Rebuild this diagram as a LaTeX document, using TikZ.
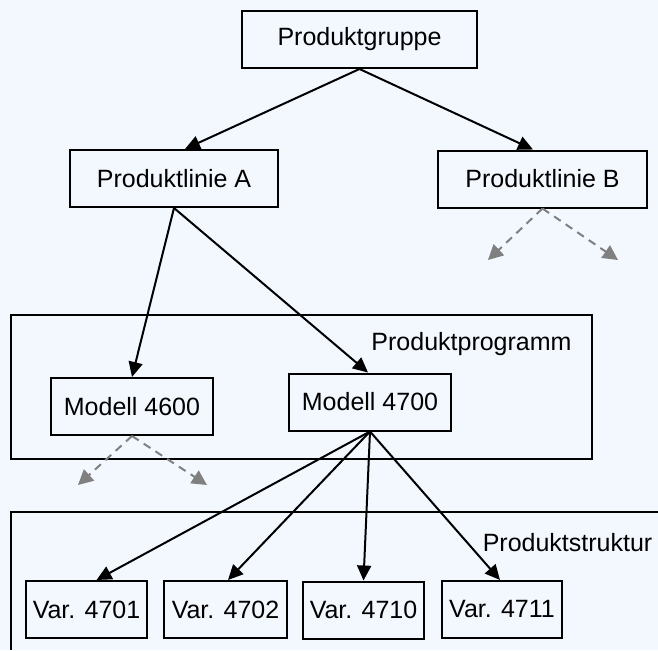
\documentclass[tikz,border=0pt]{standalone}
\usepackage{fontspec}
\setmainfont{Liberation Sans}
\usetikzlibrary{arrows.meta}
\definecolor{bgblue}{RGB}{243,248,255}
\tikzstyle{every node}=[font=\fontsize{25}{30}\selectfont,inner sep=0pt]
\tikzstyle{box}=[draw=black,line width=2pt,minimum height=57pt]
\tikzstyle{frame}=[draw=black,line width=2pt]
\tikzstyle{link}=[draw=black,line width=2pt,-{Triangle[length=15pt,width=14pt]}]
\tikzstyle{more}=[draw=gray,line width=2pt,dash pattern=on 8pt off 6pt,-{Triangle[length=15pt,width=15pt]}]

\begin{document}
\begin{tikzpicture}[x=1pt,y=-1pt]
  \fill[bgblue] (0,0) rectangle (658,650);
  \useasboundingbox (0,0) rectangle (658,650);
  \draw[frame] (11,315) rectangle (592,459);
  \draw[frame] (658,512) -| (11,650);
  \node (prog) at (471.5,344) {Produktprogramm};
  \node (struktur) at (567.5,543) {Produktstruktur};
  \node [box,minimum width=235pt,minimum height=57pt] (gruppe) at (359.5,39.5) {Produktgruppe};
  \node [box,minimum width=208pt] (linieA) at (174,178.5) {Produktlinie A};
  \node [box,minimum width=209pt] (linieB) at (542.5,179) {Produktlinie B};
  \node [box,minimum width=162pt] (m4600) at (132,406.5) {Modell 4600};
  \node [box,minimum width=162pt] (m4700) at (370,402) {Modell 4700};
  \node [box,minimum width=121pt] (v4701) at (86.5,609.5) {Var. 4701};
  \node [box,minimum width=123pt] (v4702) at (225.5,609.5) {Var. 4702};
  \node [box,minimum width=121pt] (v4710) at (363.5,610) {Var. 4710};
  \node [box,minimum width=120pt] (v4711) at (502,609.5) {Var. 4711};
  \coordinate (bL) at (488,260);
  \coordinate (bR) at (618,260);
  \coordinate (mL) at (78,485);
  \coordinate (mR) at (207,485);
  \draw[link] (gruppe.south) -- ([xshift=11pt]linieA.north);
  \draw[link] (gruppe.south) -- ([xshift=-9.5pt]linieB.north);
  \draw[link] (linieA.south) -- (m4600.north);
  \draw[link] (linieA.south) -- ([xshift=-2pt]m4700.north);
  \draw[link] (m4700.south) -- ([xshift=10pt]v4701.north);
  \draw[link] (m4700.south) -- ([xshift=2.5pt]v4702.north);
  \draw[link] (m4700.south) -- (v4710.north);
  \draw[link] (m4700.south) -- ([xshift=-2pt]v4711.north);
  \draw[more] (linieB.south) -- (bL);
  \draw[more] (linieB.south) -- (bR);
  \draw[more] (m4600.south) -- (mL);
  \draw[more] (m4600.south) -- (mR);
\end{tikzpicture}
\end{document}
